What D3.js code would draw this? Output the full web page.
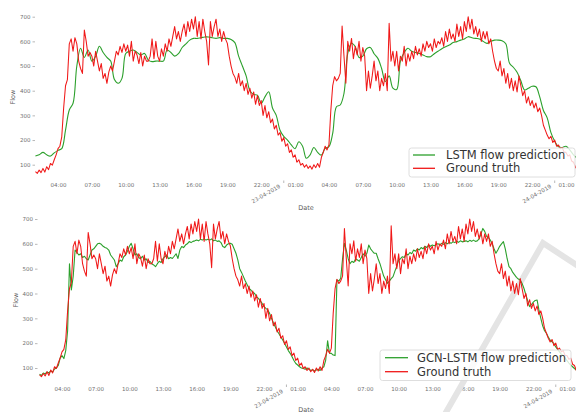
<!DOCTYPE html>
<html>
<head>
<meta charset="utf-8">
<script src="https://cdn.jsdelivr.net/npm/d3@7"></script>
<style>
  body { margin: 0; background: #fff; }
  svg { display: block; }
  text { font-family: "DejaVu Sans", sans-serif; }
</style>
</head>
<body>
<svg id="chart" width="576" height="412"></svg>
<script>
// Observed traffic flow, 10-minute steps, 22-04-2019 02:00 -> 24-04-2019 02:00
const startTime = new Date(2019, 3, 22, 2, 0);
const groundTruth = [
  72, 65, 78, 68, 85, 70,          // 02h
  92, 80, 105, 98, 120, 140,       // 03h
  165, 175, 213, 330, 420, 445,    // 04h
  590, 610, 560, 615, 590, 520,    // 05h
  490, 470, 646, 600, 540, 555,    // 06h
  540, 500, 560, 520, 480, 510,    // 07h
  450, 470, 430, 475, 500, 480,    // 08h
  520, 560, 545, 580, 555, 590,    // 09h
  560, 585, 540, 600, 520, 560,    // 10h
  545, 510, 555, 500, 540, 520,    // 11h
  520, 540, 610, 530, 600, 540,    // 12h
  520, 570, 540, 590, 560, 610,    // 13h
  580, 620, 660, 610, 640, 600,    // 14h
  640, 670, 620, 680, 640, 690,    // 15h
  650, 700, 620, 680, 610, 690,    // 16h
  640, 600, 504, 680, 620, 660,    // 17h
  690, 620, 650, 600, 640, 610,    // 18h
  592, 540, 500, 470, 455, 430,    // 19h
  470, 420, 440, 400, 430, 385,    // 20h
  410, 370, 395, 345, 380, 340,    // 21h
  360, 300, 340, 290, 315, 270,    // 22h
  285, 245, 260, 220, 230, 195,    // 23h
  210, 175, 185, 150, 160, 130,    // 00h
  140, 110, 120, 98, 105, 90,      // 01h
  100, 85, 95, 82, 100, 88,        // 02h
  105, 90, 130, 150, 175, 160,     // 03h
  180, 320, 420, 457, 440, 450,    // 04h
  470, 662, 540, 430, 600, 560,    // 05h
  612, 530, 580, 545, 600, 520,    // 06h
  575, 540, 400, 480, 410, 460,    // 07h
  520, 440, 480, 400, 450, 420,    // 08h
  470, 400, 673, 520, 560, 500,    // 09h
  560, 480, 540, 520, 580, 500,    // 10h
  550, 520, 560, 530, 580, 545,    // 11h
  570, 540, 590, 560, 600, 575,    // 12h
  590, 560, 610, 575, 600, 590,    // 13h
  615, 580, 640, 600, 650, 610,    // 14h
  630, 600, 670, 620, 660, 610,    // 15h
  680, 640, 700, 650, 690, 630,    // 16h
  660, 620, 650, 600, 640, 610,    // 17h
  640, 590, 610, 560, 520, 490,    // 18h
  480, 520, 460, 490, 430, 470,    // 19h
  410, 450, 400, 440, 395, 460,    // 20h
  420, 380, 400, 350, 375, 340,    // 21h
  360, 330, 350, 315, 330, 300,    // 22h
  260, 240, 220, 205, 215, 190,    // 23h
  200, 175, 180, 165, 170, 150,    // 00h
  150, 135, 140, 115, 110, 90,     // 01h
  80
];

// LSTM prediction, 20-minute steps over the same period
const lstmPrediction = [
  135, 140, 150,  140, 135, 148,  158, 165, 240,  322, 349, 500,
  572, 535, 565,  520, 540, 580,  555, 535, 520,  445, 430, 450,
  551, 560, 565,  555, 545, 551,  524, 518, 520,  520, 520, 565,
  555, 540, 550,  575, 590, 605,  612, 612, 615,  618, 618, 615,
  612, 615, 612,  612, 608, 595,  540, 500, 460,  400, 385, 382,
  349, 375, 396,  330, 300, 240,  215, 200, 180,  165, 193, 175,
  126, 140, 170,  150, 139, 166,  173, 227, 335,  342, 389, 551,
  592, 578, 535,  540, 570, 575,  550, 531, 490,  437, 460, 410,
  405, 520, 555,  572, 560, 555,  551, 545, 538,  538, 550, 560,
  570, 578, 585,  595, 599, 605,  610, 619, 615,  612, 610, 600,
  592, 600, 605,  605, 602, 590,  511, 495, 475,  440, 403, 410,
  418, 416, 376,  320, 290, 230,  195, 173, 170,  175, 160, 140,
  125
];

// GCN-LSTM prediction, 10-minute steps
const gcnLstmPrediction = [
  75, 70, 80, 76, 84, 80,
  88, 84, 96, 100, 110, 140,
  150, 138, 170, 250, 520, 414,
  470, 575, 565, 555, 560, 545,
  550, 540, 535, 555, 575, 580,
  590, 600, 602, 598, 590, 585,
  582, 575, 555, 545, 535, 508,
  520, 535, 530, 548, 555, 570,
  590, 602, 580, 555, 560, 545,
  540, 550, 535, 540, 525, 530,
  520, 515, 508, 520, 530, 525,
  540, 548, 555, 540, 545, 541,
  550, 560, 541, 575, 589, 585,
  595, 600, 609, 605, 610, 612,
  615, 612, 618, 615, 620, 615,
  618, 615, 620, 612, 615, 610,
  612, 605, 589, 585, 595, 600,
  602, 598, 580, 562, 535, 500,
  485, 468, 450, 435, 420, 414,
  405, 400, 387, 380, 370, 360,
  347, 340, 334, 320, 300, 282,
  266, 250, 238, 225, 213, 200,
  185, 170, 159, 145, 130, 118,
  112, 105, 100, 98, 95, 100,
  95, 90, 93, 88, 92, 95,
  90, 100, 105, 132, 210, 160,
  159, 152, 150, 455, 450, 461,
  540, 602, 575, 540, 520, 530,
  525, 540, 535, 530, 545, 560,
  550, 562, 595, 580, 570, 562,
  562, 540, 520, 495, 470, 455,
  441, 450, 460, 468, 490, 510,
  535, 540, 548, 545, 560, 555,
  565, 560, 575, 570, 580, 575,
  585, 580, 590, 585, 595, 590,
  595, 592, 598, 600, 596, 602,
  598, 605, 600, 606, 602, 608,
  605, 610, 606, 612, 608, 610,
  612, 608, 614, 610, 615, 610,
  612, 620, 640, 662, 650, 630,
  625, 615, 600, 580, 562, 575,
  590, 600, 609, 580, 540, 508,
  500, 485, 475, 465, 458, 454,
  440, 420, 395, 370, 347, 355,
  365, 372, 374, 334, 300, 270,
  250, 240, 225, 212, 205, 199,
  185, 175, 165, 155, 150, 140,
  130, 120, 112, 105, 98, 92,
  88
];

const flowTicks = [100, 200, 300, 400, 500, 600, 700];
const legendTop = ["LSTM flow prediction", "Ground truth"];
const legendBottom = ["GCN-LSTM flow prediction", "Ground truth"];
const axisLabels = { x: "Date", y: "Flow" };

const GREEN = "#2ca02c";
const RED = "#f01818";
const TICK_GREY = "#707070";

const svg = d3.select("#chart");
svg.append("rect").attr("width", 576).attr("height", 412).attr("fill", "#fff");

const endTime = d3.timeHour.offset(startTime, 48);
const atStep = (minutes) => (d, i) => ({ t: d3.timeMinute.offset(startTime, i * minutes), v: d });
const truthPts = groundTruth.map(atStep(10));
const lstmPts = lstmPrediction.map(atStep(20));
const gcnPts = gcnLstmPrediction.map(atStep(10));

const hourTicks = d3.timeHour.range(startTime, d3.timeMinute.offset(endTime, 1))
  .filter(d => d.getHours() % 3 === 1);
const dayTicks = d3.timeDay.range(startTime, endTime);
const fmtHour = d3.timeFormat("%H:%M");
const fmtDay = d3.timeFormat("%d-%m-%Y");

function panel(cfg) {
  const g = svg.append("g");
  const pxPerHour = (cfg.x01 - cfg.x04) / 45;
  const x = d3.scaleTime()
    .domain([startTime, endTime])
    .range([cfg.x04 - 2 * pxPerHour, cfg.x04 + 46 * pxPerHour]);
  const y = d3.scaleLinear().domain([100, 700]).range([cfg.y100, cfg.y700]);

  // y axis: labels with short tick marks, no spine
  const yAxis = g.append("g").attr("transform", `translate(${cfg.yTickX},0)`)
    .call(d3.axisLeft(y).tickValues(flowTicks).tickSize(2.5).tickPadding(2));
  yAxis.select(".domain").remove();
  yAxis.selectAll("line").attr("stroke", "#9a9a9a").attr("stroke-width", 0.7);
  yAxis.selectAll("text").attr("fill", TICK_GREY).attr("font-size", 5.5)
    .attr("font-family", "DejaVu Sans");

  // x axis: hour labels every three hours
  const xAxis = g.append("g").attr("transform", `translate(0,${cfg.axisY})`)
    .call(d3.axisBottom(x).tickValues(hourTicks).tickSize(0).tickPadding(cfg.xPad).tickFormat(fmtHour));
  xAxis.select(".domain").remove();
  xAxis.selectAll("text").attr("fill", TICK_GREY).attr("font-size", 5.5)
    .attr("font-family", "DejaVu Sans");

  // date labels at midnight, rotated
  const days = g.append("g");
  days.selectAll("line").data(dayTicks).join("line")
    .attr("x1", d => x(d)).attr("x2", d => x(d))
    .attr("y1", cfg.axisY + 0.5).attr("y2", cfg.axisY + 3)
    .attr("stroke", "#9a9a9a").attr("stroke-width", 0.7);
  days.selectAll("text").data(dayTicks).join("text")
    .attr("transform", d => `translate(${x(d) - 5},${cfg.dayY}) rotate(-30)`)
    .attr("text-anchor", "end")
    .attr("dominant-baseline", "hanging")
    .attr("font-size", 5.5).attr("fill", TICK_GREY)
    .text(fmtDay);

  // axis titles
  g.append("text").attr("x", 306).attr("y", cfg.dateLabelY)
    .attr("text-anchor", "middle").attr("font-size", 6.5).attr("fill", "#5a5a5a")
    .text(axisLabels.x);
  g.append("text")
    .attr("transform", `translate(${cfg.flowX},${cfg.flowY}) rotate(-90)`)
    .attr("text-anchor", "middle").attr("dominant-baseline", "middle")
    .attr("font-size", 6.5).attr("fill", "#5a5a5a")
    .text(axisLabels.y);

  if (cfg.before) cfg.before(g);

  // series
  g.append("path").datum(cfg.pred)
    .attr("fill", "none").attr("stroke", GREEN).attr("stroke-width", 1.1)
    .attr("stroke-linejoin", "round")
    .attr("d", d3.line().x(d => x(d.t)).y(d => y(d.v)).curve(cfg.predCurve));
  g.append("path").datum(truthPts)
    .attr("fill", "none").attr("stroke", RED).attr("stroke-width", 1.05)
    .attr("stroke-linejoin", "round")
    .attr("d", d3.line().x(d => x(d.t)).y(d => y(d.v)));

  // legend
  const L = cfg.legend;
  const lg = g.append("g");
  lg.append("rect").attr("x", L.x).attr("y", L.y).attr("width", L.w).attr("height", L.h)
    .attr("rx", 2.5).attr("fill", "#fff").attr("fill-opacity", 0.8)
    .attr("stroke", "#d6d6d6").attr("stroke-width", 0.8);
  cfg.labels.forEach((label, i) => {
    const cy = L.row0 + i * L.gap;
    lg.append("line").attr("x1", L.hx).attr("x2", L.hx + L.hw)
      .attr("y1", cy).attr("y2", cy)
      .attr("stroke", i === 0 ? GREEN : RED).attr("stroke-width", 1.3);
    lg.append("text").attr("x", L.tx).attr("y", cy + 4.1)
      .attr("font-size", 11.5).attr("fill", "#333")
      .text(label);
  });
}

// upper panel: LSTM
panel({
  x04: 58, x01: 566, y100: 164.7, y700: 16.7,
  yTickX: 35, axisY: 180, xPad: 3.2, dayY: 184, dateLabelY: 210,
  flowX: 13, flowY: 97,
  pred: lstmPts, predCurve: d3.curveCatmullRom.alpha(0.5),
  labels: legendTop,
  legend: { x: 409, y: 148, w: 166, h: 29, row0: 155, gap: 13.3, hx: 413, hw: 22, tx: 446 }
});

// lower panel: GCN-LSTM
panel({
  x04: 62, x01: 567, y100: 368, y700: 219,
  yTickX: 37.5, axisY: 384, xPad: 3.2, dayY: 389, dateLabelY: 411.5,
  flowX: 16, flowY: 300,
  pred: gcnPts, predCurve: d3.curveLinear,
  labels: legendBottom,
  before: (g) => {
    // faint grey mark crossing the lower right corner
    g.append("path")
      .attr("d", "M445,414 L543,243 L578,266")
      .attr("fill", "none").attr("stroke", "#e4e4e4").attr("stroke-width", 6)
      .attr("stroke-linejoin", "miter");
  },
  legend: { x: 380, y: 350, w: 191, h: 30.5, row0: 357.7, gap: 14, hx: 385, hw: 23, tx: 417 }
});
</script>
</body>
</html>
